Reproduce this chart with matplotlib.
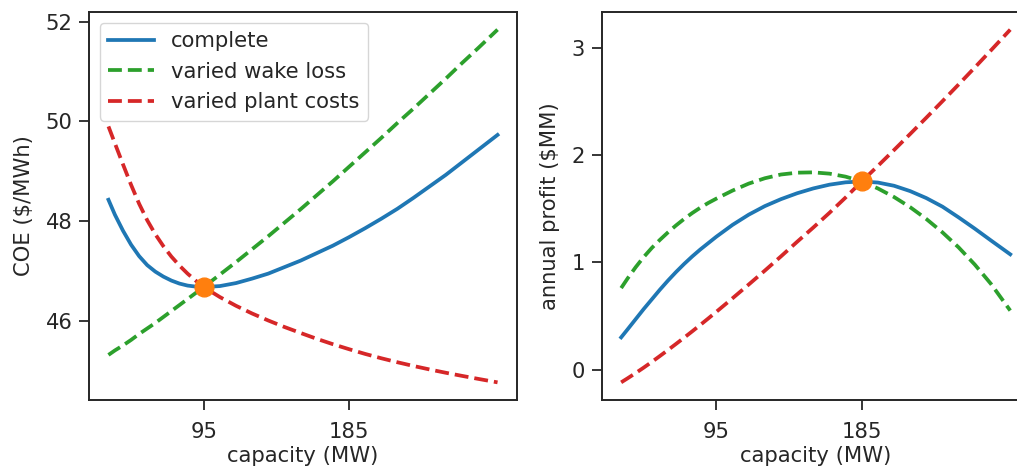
import matplotlib
matplotlib.use("Agg")
import matplotlib.pyplot as plt

plt.rcParams.update({
    "font.family": ["DejaVu Sans"],
    "font.size": 15.2,
    "axes.edgecolor": ".15",
    "axes.labelcolor": ".15",
    "xtick.color": ".15",
    "ytick.color": ".15",
    "text.color": ".15",
    "axes.linewidth": 1.4,
    "xtick.major.size": 7,
    "ytick.major.size": 7,
    "xtick.major.width": 1.3,
    "ytick.major.width": 1.3,
    "xtick.major.pad": 9,
    "ytick.major.pad": 5,
})

# plant capacity (MW)
capacity = [36, 40, 45, 50, 55, 60, 65, 70, 75, 80, 85, 90, 95, 105, 115,
            125, 135, 145, 155, 165, 175, 185, 195, 205, 215, 225, 235,
            245, 255, 265, 277]

# cost of energy ($/MWh)
coe_complete = [48.43, 48.13, 47.81, 47.53, 47.30, 47.12, 46.99, 46.89, 46.81,
                46.75, 46.71, 46.69, 46.68, 46.70, 46.76, 46.85, 46.95, 47.08,
                47.21, 47.36, 47.51, 47.68, 47.86, 48.05, 48.25, 48.47, 48.70,
                48.93, 49.18, 49.43, 49.73]
coe_wake = [45.32, 45.41, 45.51, 45.62, 45.74, 45.85, 45.96, 46.08, 46.20,
            46.32, 46.44, 46.56, 46.68, 46.93, 47.18, 47.44, 47.70, 47.97,
            48.24, 48.52, 48.80, 49.09, 49.38, 49.67, 49.97, 50.26, 50.56,
            50.86, 51.17, 51.47, 51.84]
coe_plant = [49.90, 49.56, 49.14, 48.73, 48.35, 48.02, 47.74, 47.50, 47.29,
             47.11, 46.95, 46.81, 46.68, 46.48, 46.305, 46.15, 46.01, 45.88,
             45.76, 45.643, 45.535, 45.435, 45.34, 45.253, 45.173, 45.098,
             45.028, 44.962, 44.90, 44.84, 44.77]

# annual profit ($MM)
profit_complete = [0.30, 0.375, 0.47, 0.565, 0.655, 0.745, 0.83, 0.91, 0.985,
                   1.055, 1.12, 1.18, 1.24, 1.35, 1.445, 1.525, 1.59, 1.645,
                   1.69, 1.725, 1.747, 1.755, 1.745, 1.715, 1.665, 1.60, 1.52,
                   1.42, 1.315, 1.205, 1.075]
profit_wake = [0.76, 0.85, 0.955, 1.05, 1.135, 1.21, 1.28, 1.345, 1.405,
               1.46, 1.51, 1.555, 1.595, 1.67, 1.735, 1.785, 1.82, 1.837,
               1.84, 1.828, 1.80, 1.755, 1.69, 1.61, 1.515, 1.405, 1.28,
               1.14, 0.98, 0.80, 0.55]
profit_plant = [-0.12, -0.082, -0.033, 0.018, 0.071, 0.126, 0.182, 0.239,
                0.297, 0.356, 0.416, 0.477, 0.539, 0.665, 0.793, 0.923,
                1.056, 1.192, 1.325, 1.462, 1.605, 1.755, 1.90, 2.048,
                2.198, 2.35, 2.504, 2.66, 2.818, 2.978, 3.172]

# optimum points
coe_opt = (95, 46.68)
profit_opt = (185, 1.755)

xticks = [95, 185]

W, H = 1017, 472
fig = plt.figure(figsize=(W / 100, H / 100), dpi=100)
ax1 = fig.add_axes([89 / W, 72 / H, 428 / W, 388 / H])
ax2 = fig.add_axes([601.7 / W, 72 / H, 428 / W, 388 / H])

lw = 2.7
ms = 13.5
ax1.plot(capacity, coe_complete, color="tab:blue", lw=lw, label="complete")
ax1.plot(capacity, coe_wake, color="tab:green", lw=lw, ls="--", label="varied wake loss")
ax1.plot(capacity, coe_plant, color="tab:red", lw=lw, ls="--", label="varied plant costs")
ax1.plot(*coe_opt, "o", color="tab:orange", ms=ms, zorder=5)
ax1.set_xticks(xticks)
ax1.set_yticks([46, 48, 50, 52])
ax1.set_xlabel("capacity (MW)", labelpad=3)
ax1.set_ylabel(r"COE (\$/MWh)", labelpad=8)
ax1.legend(loc="upper left", handlelength=2.2)

ax2.plot(capacity, profit_complete, color="tab:blue", lw=lw)
ax2.plot(capacity, profit_wake, color="tab:green", lw=lw, ls="--")
ax2.plot(capacity, profit_plant, color="tab:red", lw=lw, ls="--")
ax2.plot(*profit_opt, "o", color="tab:orange", ms=ms, zorder=5)
ax2.set_xticks(xticks)
ax2.set_yticks([0, 1, 2, 3])
ax2.set_xlabel("capacity (MW)", labelpad=3)
ax2.set_ylabel(r"annual profit (\$MM)", labelpad=8)

fig.savefig("out.png", dpi=100)
